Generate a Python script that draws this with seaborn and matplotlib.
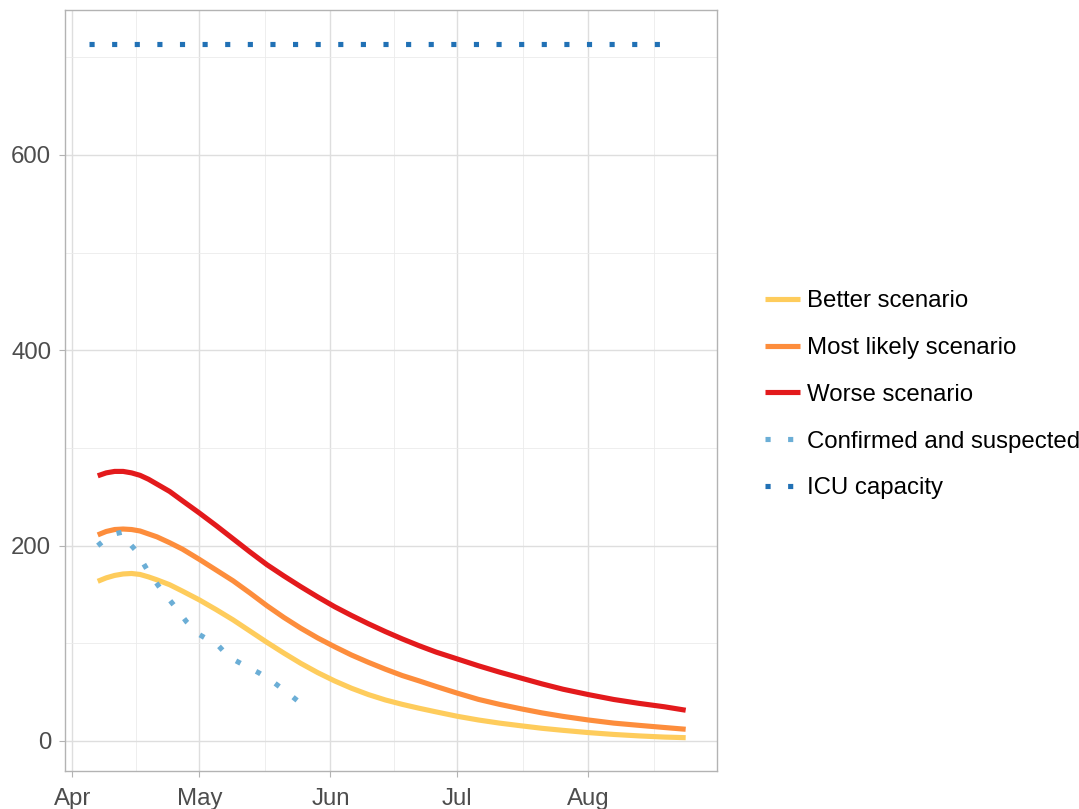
import numpy as np
import pandas as pd
import matplotlib
matplotlib.use('Agg')
import matplotlib.pyplot as plt
import matplotlib.dates as mdates
from matplotlib.lines import Line2D
import seaborn as sns

# scenario curves (ICU beds occupied), days after 1 April 2020
scen_days = [6, 8, 10, 12, 14, 16, 18, 20, 23, 26, 30, 34, 38, 42, 46, 50, 54, 58,
             62, 66, 70, 74, 78, 82, 86, 91, 96, 101, 106, 111, 116, 122, 128, 134,
             140, 145]
better = [163.5, 167, 169.5, 171, 171.5, 170.5, 168, 165, 160, 153.5, 144.5, 134.5,
          124, 112.5, 101, 90, 79.5, 70, 61.5, 54, 47.5, 42, 37.5, 33.5, 29.8, 25.3,
          21.5, 18.3, 15.6, 13, 10.9, 8.6, 6.7, 5.2, 4, 3.4]
most_likely = [211, 214.5, 216.5, 217, 216.5, 215, 212, 209, 203, 196.5, 186, 175,
               164, 151.5, 138.5, 126.5, 115.5, 105.5, 96.5, 88, 80.5, 73.5, 67,
               61.5, 55.8, 49, 42.6, 37.5, 33, 28.8, 25.2, 21.5, 18.3, 16, 13.8, 12]
worse = [271.5, 274.5, 276, 276, 274.5, 272, 268, 263, 255.5, 246, 233.5, 220.5, 207,
         193.5, 180.5, 169, 158, 147.5, 137.5, 128.5, 120, 112, 104.5, 97.5, 91, 84,
         77, 70.5, 64.5, 58.5, 53, 47.5, 42.5, 38.5, 35, 31.5]

# observed: confirmed and suspected
obs_dates = ['2020-04-07', '2020-04-09', '2020-04-11', '2020-04-13', '2020-04-14',
             '2020-04-16', '2020-04-19', '2020-04-22', '2020-04-25', '2020-04-28',
             '2020-05-01', '2020-05-03', '2020-05-05', '2020-05-08', '2020-05-11',
             '2020-05-15', '2020-05-18', '2020-05-22', '2020-05-26']
confirmed = [200, 207, 212, 214, 205, 195, 173, 155, 139, 122, 109, 104, 100, 86,
             79, 70, 62, 49, 35]

# ICU capacity
icu_dates = ['2020-04-05', '2020-08-18']
icu_capacity = [714, 714]

labels = ['Better scenario', 'Most likely scenario', 'Worse scenario',
          'Confirmed and suspected', 'ICU capacity']
colors = ['#FECC5C', '#FD8D3C', '#E31A1C', '#6BAED6', '#2171B5']

start = pd.Timestamp('2020-04-01')
scen = pd.DataFrame({'date': start + pd.to_timedelta(scen_days, unit='D'),
                     'better': better, 'most': most_likely, 'worse': worse})
obs = pd.DataFrame({'date': pd.to_datetime(obs_dates), 'value': confirmed})
icu = pd.DataFrame({'date': pd.to_datetime(icu_dates), 'value': icu_capacity})

sns.set_theme(style='white')
plt.rcParams['font.family'] = ['Liberation Sans', 'DejaVu Sans']

fig = plt.figure(figsize=(10.79, 8.09), dpi=100)
ax = fig.add_axes([0.06, 0.047, 0.6041, 0.941])

lw = 3.7
dot = (0, (1, 3.4))
sns.lineplot(data=scen, x='date', y='better', color=colors[0], lw=lw, ax=ax,
             solid_capstyle='butt', solid_joinstyle='round')
sns.lineplot(data=scen, x='date', y='most', color=colors[1], lw=lw, ax=ax,
             solid_capstyle='butt', solid_joinstyle='round')
sns.lineplot(data=scen, x='date', y='worse', color=colors[2], lw=lw, ax=ax,
             solid_capstyle='butt', solid_joinstyle='round')
sns.lineplot(data=obs, x='date', y='value', color=colors[3], lw=lw, ax=ax,
             linestyle=dot, dash_capstyle='butt')
sns.lineplot(data=icu, x='date', y='value', color=colors[4], lw=lw, ax=ax,
             linestyle=dot, dash_capstyle='butt')

# axes limits (ggplot-like expansion)
ax.set_xlim(mdates.date2num(start) - 1.8, mdates.date2num(start) + 152.3)
ax.set_ylim(-30.7, 748.7)

ax.xaxis.set_major_locator(mdates.MonthLocator())
ax.xaxis.set_major_formatter(mdates.DateFormatter('%b'))
month_starts = mdates.date2num(pd.date_range('2020-04-01', '2020-09-01', freq='MS'))
ax.xaxis.set_minor_locator(plt.FixedLocator((month_starts[:-1] + month_starts[1:]) / 2))
ax.yaxis.set_major_locator(plt.MultipleLocator(200))
ax.yaxis.set_minor_locator(plt.MultipleLocator(100))

ax.grid(which='major', color='#DEDEDE', lw=1.0)
ax.grid(which='minor', color='#EBEBEB', lw=0.6)
ax.set_axisbelow(True)
for s in ax.spines.values():
    s.set_color('#B3B3B3')
    s.set_linewidth(1.0)

ax.tick_params(which='major', length=4.5, width=0.8, color='#B3B3B3',
               labelsize=17.3, labelcolor='#4D4D4D', bottom=True, left=True)
ax.tick_params(axis='x', which='major', pad=8)
ax.tick_params(axis='y', which='major', pad=5.3)
ax.tick_params(which='minor', length=0)
ax.set_xlabel('')
ax.set_ylabel('')

handles = [Line2D([], [], color=colors[0], lw=lw, solid_capstyle='butt'),
           Line2D([], [], color=colors[1], lw=lw, solid_capstyle='butt'),
           Line2D([], [], color=colors[2], lw=lw, solid_capstyle='butt'),
           Line2D([], [], color=colors[3], lw=lw, linestyle=dot, dash_capstyle='butt'),
           Line2D([], [], color=colors[4], lw=lw, linestyle=dot, dash_capstyle='butt')]
fig.legend(handles, labels, loc='center left', bbox_to_anchor=(0.698, 0.512),
           frameon=False, fontsize=17.3, borderpad=0, handlelength=1.46,
           handletextpad=0.3, labelspacing=1.03, labelcolor='black')

fig.savefig('out.png', dpi=100)
